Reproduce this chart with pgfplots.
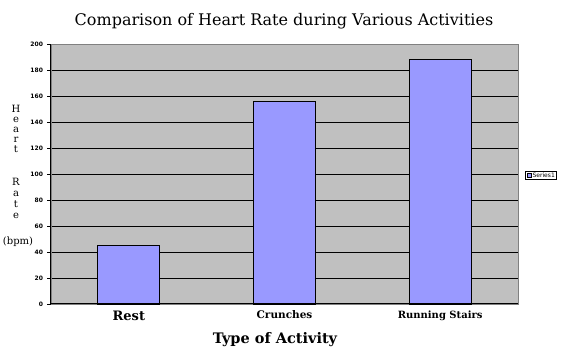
\documentclass[border=0pt]{standalone}
\usepackage{pgfplots}
\pgfplotsset{compat=1.18}
\usepackage{fontspec}
\setmainfont{DejaVu Serif}
\newfontfamily\tickfont{DejaVu Sans}
\definecolor{barblue}{HTML}{9999FF}
\definecolor{plotgray}{HTML}{C0C0C0}
\begin{document}
\begin{tikzpicture}[x=1pt,y=1pt]
\path[use as bounding box] (-51,-44) rectangle (522,304);
\begin{axis}[
  at={(0,0)}, anchor=south west,
  scale only axis, width=467pt, height=260pt,
  xmin=-0.5, xmax=2.5, ymin=0, ymax=200,
  ytick={0,20,...,200},
  xtick={0,1,2}, xticklabels={},
  xtick style={draw=none},
  extra x ticks={-0.5,0.5,1.5,2.5},
  extra x tick labels={},
  extra x tick style={tick style={draw=black, line width=0.8pt}, grid=none},
  major tick length=3.5pt,
  tick align=outside,
  ytick style={black, line width=0.8pt},
  ytick pos=left, xtick pos=bottom,
  ymajorgrids, grid style={black, line width=0.9pt},
  axis background/.style={fill=plotgray},
  axis line style={draw=gray},
  /pgf/number format/assume math mode=true,
  yticklabel style={font=\tickfont\bfseries\fontsize{6}{7}\selectfont, xshift=-1pt},
  clip=false,
]
\draw[black, line width=1pt] (axis cs:-0.5,0) -- (axis cs:-0.5,200);
\addplot[ybar, bar width=62pt, fill=barblue, draw=black, line width=0.8pt] coordinates {(0,45) (1,156) (2,188)};
\draw[black, line width=1pt] (axis cs:-0.5,0) -- (axis cs:2.5,0);
\node[font=\bfseries\fontsize{13}{14}\selectfont, anchor=base] at (axis cs:0,0) [yshift=-17pt] {Rest};
\node[font=\bfseries\fontsize{10.5}{12}\selectfont, anchor=base] at (axis cs:1,0) [yshift=-15pt] {Crunches};
\node[font=\bfseries\fontsize{10}{12}\selectfont, anchor=base] at (axis cs:2,0) [yshift=-15pt] {Running Stairs};
\end{axis}
\node[font=\fontsize{16}{18}\selectfont, anchor=base] at (233,278) {Comparison of Heart Rate during Various Activities};
\node[font=\bfseries\fontsize{14.5}{16}\selectfont, anchor=base] at (224,-40) {Type of Activity};
\foreach \ch/\yy in {H/191, e/181, a/171, r/161, t/151, R/118, a/107, t/96, e/85} {
  \node[font=\fontsize{10}{10}\selectfont, anchor=base, inner sep=0pt] at (-35,\yy) {\ch};
}
\node[font=\fontsize{10}{12}\selectfont, anchor=base, inner sep=0pt] at (-33,59) {(bpm)};
\node[draw=black, fill=white, inner sep=1.5pt, font=\tickfont\fontsize{6}{7}\selectfont, anchor=west] at (474,129) {\tikz\draw[fill=barblue,draw=black] (0,0) rectangle (4.5pt,4.5pt);\,Series1};
\end{tikzpicture}
\end{document}
